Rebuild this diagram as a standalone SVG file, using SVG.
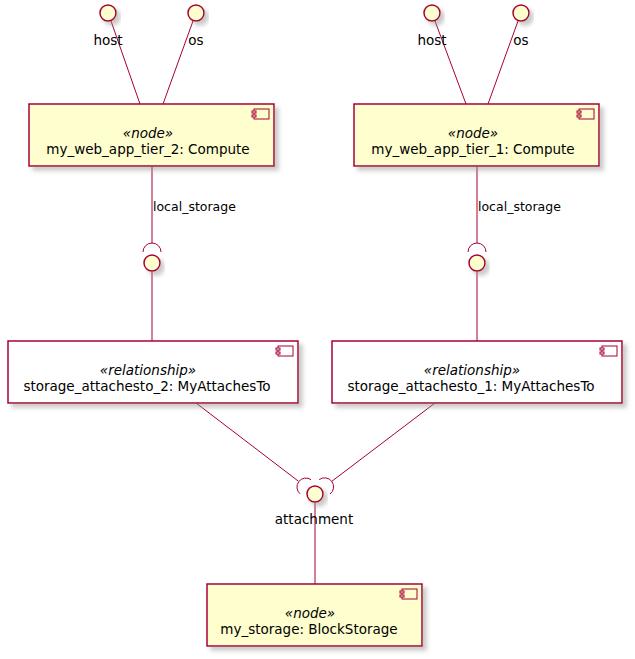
<svg xmlns="http://www.w3.org/2000/svg" width="635" height="659" viewBox="0 0 635 659">
  <defs>
    <filter id="shadow" x="-20%" y="-20%" width="150%" height="160%">
      <feGaussianBlur in="SourceAlpha" stdDeviation="2" result="b"/>
      <feOffset in="b" dx="4" dy="4" result="o"/>
      <feColorMatrix in="o" type="matrix" values="0 0 0 0 0.3  0 0 0 0 0.3  0 0 0 0 0.3  0 0 0 0.5 0" result="s"/>
      <feMerge><feMergeNode in="s"/><feMergeNode in="SourceGraphic"/></feMerge>
    </filter>
  </defs>
  <style>
    .box { fill: #FEFECE; stroke: #A80036; stroke-width: 1.5; filter: url(#shadow); }
    .rel { fill: #FFFFFF; stroke: #A80036; stroke-width: 1.5; filter: url(#shadow); }
    .ifc { fill: #FEFECE; stroke: #A80036; stroke-width: 1.5; filter: url(#shadow); }
    .icon { fill: #FEFECE; stroke: #A80036; stroke-width: 1; }
    .iconw { fill: #FFFFFF; stroke: #A80036; stroke-width: 1; }
    .edge { fill: none; stroke: #A80036; stroke-width: 1; }
    .txt { font-family: "DejaVu Sans", "Liberation Sans", sans-serif; font-size: 13.5px; fill: #000000; text-anchor: middle; }
    .st { font-style: italic; }
    .lbl { font-family: "DejaVu Sans", "Liberation Sans", sans-serif; font-size: 12.5px; fill: #000000; }
  </style>

  <!-- connectors -->
  <g id="connectors">
    <line class="edge" x1="111" y1="21" x2="140" y2="104"/>
    <line class="edge" x1="193" y1="21" x2="163" y2="104"/>
    <line class="edge" x1="435" y1="21" x2="466" y2="104"/>
    <line class="edge" x1="518" y1="21" x2="488" y2="104"/>

    <line class="edge" x1="152" y1="166" x2="152" y2="243"/>
    <path class="edge" d="M143,252 A9,9 0 0 1 161,252"/>
    <text class="lbl" x="153" y="211">local_storage</text>
    <line class="edge" x1="152" y1="271" x2="152" y2="341"/>

    <line class="edge" x1="477" y1="166" x2="477" y2="243"/>
    <path class="edge" d="M468,252 A9,9 0 0 1 486,252"/>
    <text class="lbl" x="478" y="211">local_storage</text>
    <line class="edge" x1="477" y1="271" x2="477" y2="341"/>

    <line class="edge" x1="196" y1="403" x2="298.4" y2="481.2"/>
    <path class="edge" d="M300,493.8 A9,9 0 0 1 311,479.6"/>
    <line class="edge" x1="435" y1="403" x2="331.7" y2="481.4"/>
    <path class="edge" d="M319.2,479.6 A9,9 0 0 1 330,494"/>
    <line class="edge" x1="315" y1="502" x2="315" y2="584"/>
  </g>

  <!-- provided interfaces -->
  <g id="host_2"><circle class="ifc" cx="108" cy="13" r="8"/><text class="txt" x="108" y="45">host</text></g>
  <g id="os_2"><circle class="ifc" cx="196" cy="13" r="8"/><text class="txt" x="196" y="45">os</text></g>
  <g id="host_1"><circle class="ifc" cx="432" cy="13" r="8"/><text class="txt" x="432" y="45">host</text></g>
  <g id="os_1"><circle class="ifc" cx="521" cy="13" r="8"/><text class="txt" x="521" y="45">os</text></g>
  <g id="local_storage_2"><circle class="ifc" cx="152" cy="263" r="8"/></g>
  <g id="local_storage_1"><circle class="ifc" cx="477" cy="263" r="8"/></g>
  <g id="attachment"><circle class="ifc" cx="315" cy="494" r="8"/><text class="txt" x="314" y="524">attachment</text></g>

  <!-- compute nodes -->
  <g id="my_web_app_tier_2">
    <rect class="box" x="29" y="104" width="245" height="62"/>
    <rect class="icon" x="254" y="109" width="15" height="10"/>
    <rect class="icon" x="252" y="111" width="4" height="2"/>
    <rect class="icon" x="252" y="115" width="4" height="2"/>
    <text class="txt st" x="148" y="138">«node»</text>
    <text class="txt" x="148" y="154">my_web_app_tier_2: Compute</text>
  </g>
  <g id="my_web_app_tier_1">
    <rect class="box" x="354" y="104" width="245" height="62"/>
    <rect class="icon" x="579" y="109" width="15" height="10"/>
    <rect class="icon" x="577" y="111" width="4" height="2"/>
    <rect class="icon" x="577" y="115" width="4" height="2"/>
    <text class="txt st" x="473" y="138">«node»</text>
    <text class="txt" x="473" y="154">my_web_app_tier_1: Compute</text>
  </g>

  <!-- relationships -->
  <g id="storage_attachesto_2">
    <rect class="rel" x="8" y="341" width="290" height="62"/>
    <rect class="iconw" x="278" y="346" width="15" height="10"/>
    <rect class="iconw" x="276" y="348" width="4" height="2"/>
    <rect class="iconw" x="276" y="352" width="4" height="2"/>
    <text class="txt st" x="148" y="375">«relationship»</text>
    <text class="txt" x="147" y="391">storage_attachesto_2: MyAttachesTo</text>
  </g>
  <g id="storage_attachesto_1">
    <rect class="rel" x="332" y="341" width="290" height="62"/>
    <rect class="iconw" x="602" y="346" width="15" height="10"/>
    <rect class="iconw" x="600" y="348" width="4" height="2"/>
    <rect class="iconw" x="600" y="352" width="4" height="2"/>
    <text class="txt st" x="472" y="375">«relationship»</text>
    <text class="txt" x="471" y="391">storage_attachesto_1: MyAttachesTo</text>
  </g>

  <!-- block storage -->
  <g id="my_storage">
    <rect class="box" x="207" y="584" width="215" height="62"/>
    <rect class="icon" x="402" y="589" width="15" height="10"/>
    <rect class="icon" x="400" y="591" width="4" height="2"/>
    <rect class="icon" x="400" y="595" width="4" height="2"/>
    <text class="txt st" x="310" y="618">«node»</text>
    <text class="txt" x="309" y="634">my_storage: BlockStorage</text>
  </g>
</svg>
